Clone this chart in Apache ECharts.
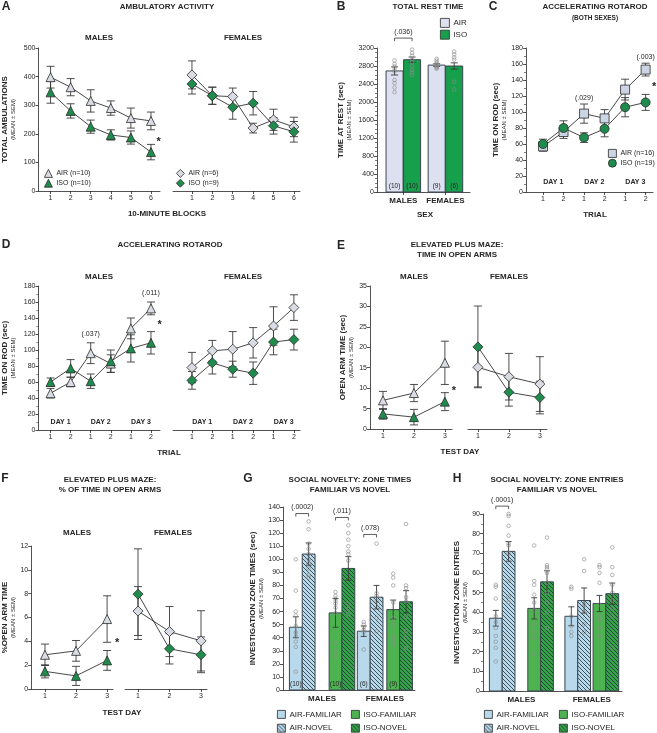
<!DOCTYPE html>
<html lang="en">
<head>
<meta charset="UTF-8">
<title>Isoflurane behaviour panels</title>
<script src="https://cdn.jsdelivr.net/npm/echarts@6.0.0/dist/echarts.min.js"></script>
<style>
    html, body { margin: 0; padding: 0; background: #fff; }
    #main { width: 657px; height: 733px; }
</style>
</head>
<body>
<div id="main"></div>
<script>
// ---------------- data ----------------
// A  ambulatory activity per 10-minute block
var ambBlocks = [1, 2, 3, 4, 5, 6];
var ambMaleAir = [398, 363, 315, 290, 255, 245];
var ambMaleAirSem = [38, 30, 39, 25, 35, 31];
var ambMaleIso = [345, 280, 225, 196, 187, 136];
var ambMaleIsoSem = [38, 25, 23, 18, 23, 27];
var ambFemAir = [406, 333, 330, 220, 249, 224];
var ambFemAirSem = [49, 30, 30, 17, 37, 34];
var ambFemIso = [374, 333, 293, 307, 228, 207];
var ambFemIsoSem = [35, 30, 42, 41, 29, 36];

// B  total rest time
var restGroups = ['MALES', 'FEMALES'];
var restAir = [2690, 2820];
var restAirSem = [90, 30];
var restIso = [2940, 2800];
var restIsoSem = [60, 70];
var restAirN = ['(10)', '(9)'];
var restIsoN = ['(10)', '(6)'];
var restAirPts = [[3215, 2925, 2845, 2790, 2740, 2680, 2490, 2420, 2320, 2220],
                  [2960, 2920, 2880, 2850, 2820, 2800, 2780, 2760, 2740]];
var restIsoPts = [[3235, 3165, 3090, 3030, 2955, 2880, 2790, 2715, 2660, 2600],
                  [3120, 3060, 2990, 2940, 2450, 2280]];
var restP = ['(.036)'];

// C  rotarod, both sexes
var trialPos = [1, 2, 3, 4, 5, 6];
var trialLabels = ['1', '2', '1', '2', '1', '2'];
var dayLabels = ['DAY 1', 'DAY 2', 'DAY 3'];
var rodAllAir = [57, 75, 98, 92, 128, 153];
var rodAllAirSem = [6, 8, 12, 11, 13, 8];
var rodAllIso = [60, 80, 68, 79, 106, 112];
var rodAllIsoSem = [6, 9, 6, 10, 12, 10];
var rodAllP = ['(.029)', '(.003)'];

// D  rotarod by sex
var rodMaleAir = [46, 60, 96, 83, 127, 152];
var rodMaleAirSem = [6, 6, 13, 11, 13, 8];
var rodMaleIso = [60, 77, 61, 86, 102, 109];
var rodMaleIsoSem = [5, 11, 9, 14, 17, 14];
var rodFemAir = [78, 99, 101, 109, 130, 153];
var rodFemAirSem = [19, 13, 22, 19, 24, 16];
var rodFemIso = [62, 84, 76, 71, 110, 113];
var rodFemIsoSem = [11, 14, 10, 14, 16, 13];
var rodSexP = ['(.037)', '(.011)'];

// E  elevated plus maze, time in open arms
var testDays = [1, 2, 3];
var epmMaleAir = [7, 8.8, 16.2];
var epmMaleAirSem = [2.2, 2.1, 5.3];
var epmMaleIso = [3.7, 2.9, 6.7];
var epmMaleIsoSem = [1.3, 1.9, 2.2];
var epmFemAir = [15.1, 12.8, 11];
var epmFemAirSem = [4.8, 5.7, 6.7];
var epmFemIso = [20.1, 9, 7.7];
var epmFemIsoSem = [10, 3.4, 4];

// F  elevated plus maze, % time in open arms
var pctMaleAir = [2.87, 3.2, 5.87];
var pctMaleAirSem = [0.9, 0.87, 1.95];
var pctMaleIso = [1.48, 1.1, 2.4];
var pctMaleIsoSem = [0.55, 0.8, 0.83];
var pctFemAir = [6.54, 4.82, 4.04];
var pctFemAirSem = [2.05, 2.1, 2.53];
var pctFemIso = [7.96, 3.37, 2.87];
var pctFemIsoSem = [3.8, 1.27, 1.5];

// G  social novelty, zone times (males, females)
var zoneTimeAirFam = [48, 45];
var zoneTimeAirFamSem = [8, 4];
var zoneTimeAirNov = [104, 71];
var zoneTimeAirNovSem = [8.5, 9];
var zoneTimeIsoFam = [59, 61.5];
var zoneTimeIsoFamSem = [11, 7.3];
var zoneTimeIsoNov = [93, 67.5];
var zoneTimeIsoNovSem = [9, 8.5];
var zoneTimeAirFamPts = [[100, 76, 60, 57, 49, 44, 41, 37, 33, 14], [52, 50, 48, 46, 44, 31]];
var zoneTimeAirNovPts = [[129, 123, 112, 108, 104, 100, 97, 93, 88, 86], [112, 74, 72, 68, 55, 45]];
var zoneTimeIsoFamPts = [[75, 72, 70, 68, 66, 63, 59, 36, 30, 26], [89, 86, 80, 67, 55, 50, 41, 38, 35]];
var zoneTimeIsoNovPts = [[126, 120, 115, 110, 106, 104, 99, 66, 62, 58], [127, 80, 78, 71, 68, 56, 45, 40, 32]];
var zoneNAir = ['(10)', '(6)'];
var zoneNIso = ['(10)', '(9)'];
var zoneTimeP = ['(.0002)', '(.011)', '(.078)'];

// H  social novelty, zone entries
var zoneEntAirFam = [37, 38];
var zoneEntAirFamSem = [4, 4.8];
var zoneEntAirNov = [71, 46];
var zoneEntAirNovSem = [5, 6.4];
var zoneEntIsoFam = [42, 44.5];
var zoneEntIsoFamSem = [5.4, 4.1];
var zoneEntIsoNov = [55.5, 49.5];
var zoneEntIsoNovSem = [5.6, 5.4];
var zoneEntAirFamPts = [[54, 53, 47, 38, 35, 32, 28, 25, 22, 15], [53, 52, 38, 33, 30, 28]];
var zoneEntAirNovPts = [[90, 89, 84, 79, 75, 74, 70, 56, 48, 45], [67, 61, 44, 40, 34, 30]];
var zoneEntIsoFamPts = [[74, 56, 54, 49, 45, 41, 34, 30, 27, 19], [64, 63, 60, 55, 44, 38, 36, 32, 28]];
var zoneEntIsoNovPts = [[78, 64, 63, 62, 60, 55, 50, 45, 40, 32], [73, 63, 59, 54, 50, 46, 42, 38, 22]];
var zoneEntP = ['(.0001)'];

// ---------------- styling ----------------
var FONT = 'Arial, "Liberation Sans", Helvetica, sans-serif';
var INK = '#262626';
var EDGE = '#3a4650';
var AIR_MARK = '#d9dce4';
var AIR_SQ = '#cbd5e6';
var ISO_MARK = '#1f8b4c';
var AIR_BAR = '#dde0f0';
var ISO_BAR = '#17a04c';
var FAM_AIR = '#b8d9ec';
var FAM_ISO = '#4db350';
var NOV_ISO = '#33a447';

// diagonal hatch used for the "novel" bars
function hatch(bg) {
    var c = document.createElement('canvas');
    c.width = 4; c.height = 4;
    var g = c.getContext('2d');
    g.fillStyle = bg; g.fillRect(0, 0, 4, 4);
    g.strokeStyle = '#1f2d33'; g.lineWidth = 0.8;
    g.beginPath();
    g.moveTo(-1, -1); g.lineTo(5, 5);
    g.moveTo(-1, 3); g.lineTo(1, 5);
    g.moveTo(3, -1); g.lineTo(5, 1);
    g.stroke();
    return {image: c, repeat: 'repeat'};
}
var NOV_AIR_FILL = hatch(FAM_AIR);
var NOV_ISO_FILL = hatch(NOV_ISO);

var grids = [], xAxes = [], yAxes = [], series = [], legends = [], texts = [];

function addPanel(p) {
    var gi = grids.length;
    var ticks = p.xTicks;
    grids.push({left: p.left, top: p.top, width: p.width, height: p.height});
    xAxes.push({
        type: 'value', gridIndex: gi, min: p.xMin, max: p.xMax,
        axisLine: {show: true, onZero: false, lineStyle: {color: INK, width: 0.8}},
        axisTick: {show: !p.noXTick, customValues: ticks, length: 3, lineStyle: {color: INK, width: 0.8}},
        axisLabel: {
            customValues: ticks, color: INK, fontFamily: FONT,
            fontSize: p.xBold ? 8 : 7, fontWeight: p.xBold ? 'bold' : 'normal', margin: p.xBold ? 5 : 4,
            formatter: function (v) {
                var i = ticks.indexOf(v);
                return p.xLabels ? p.xLabels[i] : String(v);
            }
        },
        splitLine: {show: false}
    });
    yAxes.push({
        type: 'value', gridIndex: gi, show: !p.yHide, min: 0, max: p.yMax, interval: p.yInt,
        axisLine: {show: true, onZero: false, lineStyle: {color: INK, width: 0.8}},
        axisTick: {show: true, length: 3, lineStyle: {color: INK, width: 0.8}},
        minorTick: {show: !!p.yMinor, splitNumber: p.yMinor || 5, length: 2, lineStyle: {color: INK, width: 0.6}},
        axisLabel: {fontSize: 7, color: INK, margin: 3, fontFamily: FONT,
            formatter: function (v) { return String(v); }},
        splitLine: {show: false},
        name: p.yName || '', nameLocation: 'middle', nameRotate: 90, nameGap: p.nameGap || 20,
        nameTextStyle: {
            color: INK,
            rich: {
                a: {fontSize: 8, fontWeight: 'bold', fontFamily: FONT, color: INK, lineHeight: 9},
                b: {fontSize: 6, fontFamily: FONT, color: INK, lineHeight: 8}
            }
        }
    });
    return gi;
}

function T(x, y, text, size, bold) {
    texts.push({
        type: 'text', x: x, y: y, silent: true,
        style: {
            text: text, fill: INK,
            font: (bold ? 'bold ' : '') + size + 'px ' + FONT,
            align: 'center', verticalAlign: 'middle',
            textAlign: 'center', textVerticalAlign: 'middle'
        }
    });
}

function pairs(xs, ys) {
    return xs.map(function (x, i) { return [x, ys[i]]; });
}

function lineSeries(gi, name, xs, ys, symbol, fill, size) {
    return {
        type: 'line', name: name, xAxisIndex: gi, yAxisIndex: gi, z: 5,
        data: pairs(xs, ys), symbol: symbol, symbolSize: size, showAllSymbol: true,
        lineStyle: {color: '#333', width: 0.9},
        itemStyle: {color: fill, borderColor: '#2a2a2a', borderWidth: 0.8}
    };
}

function errSeries(gi, xs, means, sems, cap) {
    return {
        type: 'custom', xAxisIndex: gi, yAxisIndex: gi, z: 3, silent: true,
        data: xs.map(function (x, i) { return [x, means[i], sems[i]]; }),
        renderItem: function (params, api) {
            var x = api.value(0), m = api.value(1), s = api.value(2);
            var hi = api.coord([x, m + s]), lo = api.coord([x, m - s]);
            function st() { return {stroke: '#3a3a3a', lineWidth: 0.9}; }
            return {
                type: 'group', children: [
                    {type: 'line', shape: {x1: hi[0], y1: hi[1], x2: lo[0], y2: lo[1]}, style: st()},
                    {type: 'line', shape: {x1: hi[0] - cap, y1: hi[1], x2: hi[0] + cap, y2: hi[1]}, style: st()},
                    {type: 'line', shape: {x1: lo[0] - cap, y1: lo[1], x2: lo[0] + cap, y2: lo[1]}, style: st()}
                ]
            };
        }
    };
}

function barSeries(gi, name, xs, ys, fill, width, nText) {
    return {
        type: 'custom', name: name, xAxisIndex: gi, yAxisIndex: gi, z: 2,
        itemStyle: {color: fill, borderColor: EDGE, borderWidth: 1},
        data: pairs(xs, ys),
        renderItem: function (params, api) {
            var x = api.value(0), v = api.value(1);
            var base = api.coord([x, 0]), top = api.coord([x, v]);
            var w = api.size([width, 0])[0];
            var kids = [{
                type: 'rect',
                shape: {x: base[0] - w / 2, y: top[1], width: w, height: base[1] - top[1]},
                style: {fill: fill, stroke: EDGE, lineWidth: 1}
            }];
            if (nText && nText[params.dataIndex]) {
                kids.push({
                    type: 'text', x: base[0], y: base[1] - 6, z2: 5,
                    style: {
                        text: nText[params.dataIndex], fill: INK, font: '6.5px ' + FONT,
                        align: 'center', verticalAlign: 'middle', textAlign: 'center', textVerticalAlign: 'middle'
                    }
                });
            }
            return {type: 'group', children: kids};
        }
    };
}

function dotSeries(gi, xs, ptsList) {
    var data = [];
    xs.forEach(function (x, i) {
        ptsList[i].forEach(function (v) { data.push([x, v]); });
    });
    return {
        type: 'scatter', xAxisIndex: gi, yAxisIndex: gi, z: 4, silent: true,
        data: data, symbol: 'circle', symbolSize: 3.6,
        itemStyle: {color: 'rgba(255,255,255,0)', borderColor: '#8a8a8a', borderWidth: 0.8}
    };
}

// items: [x, y, text]
function textSeries(gi, items, font) {
    return {
        type: 'custom', xAxisIndex: gi, yAxisIndex: gi, z: 6, silent: true, clip: false,
        data: items.map(function (d) { return [d[0], d[1]]; }),
        renderItem: function (params, api) {
            var p = api.coord([api.value(0), api.value(1)]);
            return {
                type: 'text', x: p[0], y: p[1],
                style: {
                    text: items[params.dataIndex][2], fill: INK, font: font,
                    align: 'center', verticalAlign: 'middle', textAlign: 'center', textVerticalAlign: 'middle'
                }
            };
        }
    };
}

// items: [x1, x2, y, label]
function bracketSeries(gi, items) {
    return {
        type: 'custom', xAxisIndex: gi, yAxisIndex: gi, z: 6, silent: true, clip: false,
        data: items.map(function (d) { return [d[0], d[2], d[1]]; }),
        renderItem: function (params, api) {
            var a = api.coord([api.value(0), api.value(1)]);
            var b = api.coord([api.value(2), api.value(1)]);
            return {
                type: 'group', children: [
                    {type: 'polyline', shape: {points: [[a[0], a[1] + 3], a, b, [b[0], b[1] + 3]]},
                        style: {stroke: '#333', lineWidth: 0.8, fill: null}},
                    {type: 'text', x: (a[0] + b[0]) / 2, y: a[1] - 6,
                        style: {text: items[params.dataIndex][3], fill: INK, font: '7px ' + FONT,
                            align: 'center', verticalAlign: 'middle', textAlign: 'center', textVerticalAlign: 'middle'}}
                ]
            };
        }
    };
}

function legend(left, top, items, size, gap, fontSize) {
    legends.push({
        left: left, top: top, orient: 'vertical', padding: 0, itemGap: gap,
        itemWidth: size, itemHeight: size, selectedMode: false,
        textStyle: {fontSize: fontSize, color: INK, fontFamily: FONT, padding: [0, 0, 0, -1]},
        data: items.map(function (d) {
            return {name: d[0], icon: d[1], itemStyle: {color: d[2], borderColor: '#2a2a2a', borderWidth: 0.8}};
        })
    });
}

var AST = 'bold 11px ' + FONT;
var PFONT = '7px ' + FONT;
var DFONT = 'bold 7px ' + FONT;
var dayPos = [1.5, 3.5, 5.5];

// ---------------- A ----------------
var gAm = addPanel({left: 37, top: 48, width: 123, height: 143, xMin: 0.4, xMax: 6.45, xTicks: ambBlocks,
    yMax: 500, yInt: 100, yName: '{a|TOTAL AMBULATIONS}\n{b|(MEAN ± SEM)}', nameGap: 21});
var gAf = addPanel({left: 173, top: 48, width: 127, height: 143, xMin: 0.07, xMax: 6.3, xTicks: ambBlocks,
    yMax: 500, yInt: 100, yHide: true});
series.push(errSeries(gAm, ambBlocks, ambMaleAir, ambMaleAirSem, 4));
series.push(errSeries(gAm, ambBlocks, ambMaleIso, ambMaleIsoSem, 4));
series.push(lineSeries(gAm, 'AIR (n=10)', ambBlocks, ambMaleAir, 'triangle', AIR_MARK, 9));
series.push(lineSeries(gAm, 'ISO (n=10)', ambBlocks, ambMaleIso, 'triangle', ISO_MARK, 9));
series.push(errSeries(gAf, ambBlocks, ambFemAir, ambFemAirSem, 4));
series.push(errSeries(gAf, ambBlocks, ambFemIso, ambFemIsoSem, 4));
series.push(lineSeries(gAf, 'AIR (n=6)', ambBlocks, ambFemAir, 'diamond', AIR_MARK, 10));
series.push(lineSeries(gAf, 'ISO (n=9)', ambBlocks, ambFemIso, 'diamond', ISO_MARK, 10));
series.push(textSeries(gAm, [[6.38, 171, '*']], AST));
legend(44, 169, [['AIR (n=10)', 'triangle', AIR_MARK], ['ISO (n=10)', 'triangle', ISO_MARK]], 8, 1, 7);
legend(176, 169, [['AIR (n=6)', 'diamond', AIR_MARK], ['ISO (n=9)', 'diamond', ISO_MARK]], 8, 1, 7);

// ---------------- B ----------------
var restXAir = [1, 3.4], restXIso = [2, 4.4];
var gB = addPanel({left: 377, top: 48, width: 93, height: 144, xMin: 0, xMax: 5.3, xTicks: [1.5, 3.9],
    xLabels: restGroups, xBold: true, yMax: 3200, yInt: 400, yMinor: 4,
    yName: '{a|TIME AT REST (sec)}\n{b|(MEAN ± SEM)}', nameGap: 24});
series.push(barSeries(gB, 'AIR', restXAir, restAir, AIR_BAR, 0.97, restAirN));
series.push(barSeries(gB, 'ISO', restXIso, restIso, ISO_BAR, 0.97, restIsoN));
series.push(dotSeries(gB, restXAir, restAirPts));
series.push(dotSeries(gB, restXIso, restIsoPts));
series.push(errSeries(gB, restXAir, restAir, restAirSem, 3.5));
series.push(errSeries(gB, restXIso, restIso, restIsoSem, 3.5));
series.push(bracketSeries(gB, [[1, 2, 3420, restP[0]]]));
legend(440, 18, [['AIR', 'rect', AIR_BAR], ['ISO', 'rect', ISO_BAR]], 9, 2, 8);

// ---------------- C ----------------
var gC = addPanel({left: 526, top: 48, width: 127, height: 144, xMin: 0.17, xMax: 6.36, xTicks: trialPos,
    xLabels: trialLabels, yMax: 180, yInt: 20, yMinor: 2,
    yName: '{a|TIME ON ROD (sec)}\n{b|(MEAN ± SEM)}', nameGap: 16});
series.push(errSeries(gC, trialPos, rodAllAir, rodAllAirSem, 4));
series.push(errSeries(gC, trialPos, rodAllIso, rodAllIsoSem, 4));
series.push(lineSeries(gC, 'AIR (n=16)', trialPos, rodAllAir, 'rect', AIR_SQ, 9));
series.push(lineSeries(gC, 'ISO (n=19)', trialPos, rodAllIso, 'circle', ISO_MARK, 9));
series.push(textSeries(gC, [[3, 118, rodAllP[0]], [6, 169, rodAllP[1]]], PFONT));
series.push(textSeries(gC, [[6.42, 131, '*']], AST));
series.push(textSeries(gC, dayPos.map(function (x, i) { return [x, 12, dayLabels[i]]; }), DFONT));
legend(608, 149, [['AIR (n=16)', 'rect', AIR_SQ], ['ISO (n=19)', 'circle', ISO_MARK]], 8, 1, 7);

// ---------------- D ----------------
var gDm = addPanel({left: 37, top: 286, width: 123, height: 144, xMin: 0.4, xMax: 6.45, xTicks: trialPos,
    xLabels: trialLabels, yMax: 180, yInt: 20, yMinor: 2,
    yName: '{a|TIME ON ROD (sec)}\n{b|(MEAN ± SEM)}', nameGap: 21});
var gDf = addPanel({left: 173, top: 286, width: 127, height: 144, xMin: 0.07, xMax: 6.3, xTicks: trialPos,
    xLabels: trialLabels, yMax: 180, yInt: 20, yHide: true});
series.push(errSeries(gDm, trialPos, rodMaleAir, rodMaleAirSem, 4));
series.push(errSeries(gDm, trialPos, rodMaleIso, rodMaleIsoSem, 4));
series.push(lineSeries(gDm, 'D AIR M', trialPos, rodMaleAir, 'triangle', AIR_MARK, 9));
series.push(lineSeries(gDm, 'D ISO M', trialPos, rodMaleIso, 'triangle', ISO_MARK, 9));
series.push(errSeries(gDf, trialPos, rodFemAir, rodFemAirSem, 4));
series.push(errSeries(gDf, trialPos, rodFemIso, rodFemIsoSem, 4));
series.push(lineSeries(gDf, 'D AIR F', trialPos, rodFemAir, 'diamond', AIR_MARK, 10));
series.push(lineSeries(gDf, 'D ISO F', trialPos, rodFemIso, 'diamond', ISO_MARK, 10));
series.push(textSeries(gDm, [[3, 120, rodSexP[0]], [6, 171, rodSexP[1]]], PFONT));
series.push(textSeries(gDm, [[6.43, 131, '*']], AST));
series.push(textSeries(gDm, dayPos.map(function (x, i) { return [x, 10, dayLabels[i]]; }), DFONT));
series.push(textSeries(gDf, dayPos.map(function (x, i) { return [x, 10, dayLabels[i]]; }), DFONT));

// ---------------- E ----------------
var gEm = addPanel({left: 370, top: 286, width: 82, height: 143, xMin: 0.58, xMax: 3.23, xTicks: testDays,
    yMax: 35, yInt: 5, yName: '{a|OPEN ARM TIME (sec)}\n{b|(MEAN ± SEM)}', nameGap: 15});
var gEf = addPanel({left: 468, top: 286, width: 79, height: 143, xMin: 0.68, xMax: 3.23, xTicks: testDays,
    yMax: 35, yInt: 5, yHide: true});
series.push(errSeries(gEm, testDays, epmMaleAir, epmMaleAirSem, 4));
series.push(errSeries(gEm, testDays, epmMaleIso, epmMaleIsoSem, 4));
series.push(lineSeries(gEm, 'E AIR M', testDays, epmMaleAir, 'triangle', AIR_MARK, 9));
series.push(lineSeries(gEm, 'E ISO M', testDays, epmMaleIso, 'triangle', ISO_MARK, 9));
series.push(errSeries(gEf, testDays, epmFemAir, epmFemAirSem, 4));
series.push(errSeries(gEf, testDays, epmFemIso, epmFemIsoSem, 4));
series.push(lineSeries(gEf, 'E AIR F', testDays, epmFemAir, 'diamond', AIR_MARK, 10));
series.push(lineSeries(gEf, 'E ISO F', testDays, epmFemIso, 'diamond', ISO_MARK, 10));
series.push(textSeries(gEm, [[3.29, 9.3, '*']], AST));

// ---------------- F ----------------
var gFm = addPanel({left: 30, top: 546, width: 83, height: 143, xMin: 0.556, xMax: 3.19, xTicks: testDays,
    yMax: 12, yInt: 2, yName: '{a|%OPEN ARM TIME}\n{b|(MEAN ± SEM)}', nameGap: 12});
var gFf = addPanel({left: 125, top: 546, width: 82, height: 143, xMin: 0.587, xMax: 3.19, xTicks: testDays,
    yMax: 12, yInt: 2, yHide: true});
series.push(errSeries(gFm, testDays, pctMaleAir, pctMaleAirSem, 4));
series.push(errSeries(gFm, testDays, pctMaleIso, pctMaleIsoSem, 4));
series.push(lineSeries(gFm, 'F AIR M', testDays, pctMaleAir, 'triangle', AIR_MARK, 9));
series.push(lineSeries(gFm, 'F ISO M', testDays, pctMaleIso, 'triangle', ISO_MARK, 9));
series.push(errSeries(gFf, testDays, pctFemAir, pctFemAirSem, 4));
series.push(errSeries(gFf, testDays, pctFemIso, pctFemIsoSem, 4));
series.push(lineSeries(gFf, 'F AIR F', testDays, pctFemAir, 'diamond', AIR_MARK, 10));
series.push(lineSeries(gFf, 'F ISO F', testDays, pctFemIso, 'diamond', ISO_MARK, 10));
series.push(textSeries(gFm, [[3.32, 3.9, '*']], AST));

// ---------------- G / H (bar slots: males, females) ----------------
function zonePanel(gi, slots, w, vals, sems, pts, nA, nI, brackets) {
    var names = ['AIR-FAMILIAR', 'AIR-NOVEL', 'ISO-FAMILIAR', 'ISO-NOVEL'];
    var fills = [FAM_AIR, NOV_AIR_FILL, FAM_ISO, NOV_ISO_FILL];
    var ns = [nA, null, nI, null];
    for (var k = 0; k < 4; k++) {
        var xs = [slots[k], slots[k + 4]];
        series.push(barSeries(gi, names[k], xs, vals[k], fills[k], w, ns[k]));
        series.push(dotSeries(gi, xs, pts[k]));
        series.push(errSeries(gi, xs, vals[k], sems[k], 3));
    }
    series.push(bracketSeries(gi, brackets));
}

var gG = addPanel({left: 283, top: 507, width: 132, height: 183, xMin: 0, xMax: 10.3, xTicks: [3.05, 7.95],
    xLabels: restGroups, xBold: true, noXTick: true, yMax: 140, yInt: 10,
    yName: '{a|INVESTIGATION ZONE TIMES (sec)}\n{b|(MEAN ± SEM)}', nameGap: 18});
var gSlots = [1, 2, 4.1, 5.1, 6.3, 7.3, 8.6, 9.6];
zonePanel(gG, gSlots, 1,
    [zoneTimeAirFam, zoneTimeAirNov, zoneTimeIsoFam, zoneTimeIsoNov],
    [zoneTimeAirFamSem, zoneTimeAirNovSem, zoneTimeIsoFamSem, zoneTimeIsoNovSem],
    [zoneTimeAirFamPts, zoneTimeAirNovPts, zoneTimeIsoFamPts, zoneTimeIsoNovPts],
    zoneNAir, zoneNIso,
    [[1, 2, 135, zoneTimeP[0]], [4.1, 5.1, 132, zoneTimeP[1]], [6.3, 7.3, 119, zoneTimeP[2]]]);

var gH = addPanel({left: 483, top: 514, width: 139, height: 177, xMin: 0, xMax: 10.86, xTicks: [3, 8.5],
    xLabels: restGroups, xBold: true, noXTick: true, yMax: 90, yInt: 10, yMinor: 2,
    yName: '{a|INVESTIGATION ZONE ENTRIES}\n{b|(MEAN ± SEM)}', nameGap: 12});
var hSlots = [1, 2, 4, 5, 6.9, 7.9, 9.1, 10.1];
zonePanel(gH, hSlots, 1,
    [zoneEntAirFam, zoneEntAirNov, zoneEntIsoFam, zoneEntIsoNov],
    [zoneEntAirFamSem, zoneEntAirNovSem, zoneEntIsoFamSem, zoneEntIsoNovSem],
    [zoneEntAirFamPts, zoneEntAirNovPts, zoneEntIsoFamPts, zoneEntIsoNovPts],
    null, null,
    [[1, 2, 94, zoneEntP[0]]]);

legend(277, 710, [['AIR-FAMILIAR', 'rect', FAM_AIR], ['AIR-NOVEL', 'rect', NOV_AIR_FILL]], 8, 5, 8);
legend(351, 710, [['ISO-FAMILIAR', 'rect', FAM_ISO], ['ISO-NOVEL', 'rect', NOV_ISO_FILL]], 8, 5, 8);
legend(484, 710, [['AIR-FAMILIAR', 'rect', FAM_AIR], ['AIR-NOVEL', 'rect', NOV_AIR_FILL]], 8, 5, 8);
legend(559, 710, [['ISO-FAMILIAR', 'rect', FAM_ISO], ['ISO-NOVEL', 'rect', NOV_ISO_FILL]], 8, 5, 8);

// ---------------- titles, letters, axis captions ----------------
T(6, 7, 'A', 12, true); T(341, 7, 'B', 12, true); T(493, 7, 'C', 12, true); T(6, 245, 'D', 12, true);
T(341, 246, 'E', 12, true); T(5, 479, 'F', 12, true); T(248, 479, 'G', 12, true); T(457, 479, 'H', 12, true);

T(167, 7, 'AMBULATORY ACTIVITY', 8, true);
T(99, 38, 'MALES', 8, true); T(243, 38, 'FEMALES', 8, true);
T(167, 214, '10-MINUTE BLOCKS', 8, true);
T(428, 7, 'TOTAL REST TIME', 8, true);
T(425, 215, 'SEX', 8, true);
T(595, 7, 'ACCELERATING ROTAROD', 8, true);
T(595, 18, '(BOTH SEXES)', 6.5, true);
T(595, 215, 'TRIAL', 8, true);
T(170, 245, 'ACCELERATING ROTAROD', 8, true);
T(99, 277, 'MALES', 8, true); T(243, 277, 'FEMALES', 8, true);
T(169, 453, 'TRIAL', 8, true);
T(457, 245, 'ELEVATED PLUS MAZE:', 8, true); T(457, 255, 'TIME IN OPEN ARMS', 8, true);
T(414, 277, 'MALES', 8, true); T(509, 277, 'FEMALES', 8, true);
T(460, 452, 'TEST DAY', 8, true);
T(110, 480, 'ELEVATED PLUS MAZE:', 8, true); T(110, 490, '% OF TIME IN OPEN ARMS', 8, true);
T(77, 533, 'MALES', 8, true); T(173, 533, 'FEMALES', 8, true);
T(122, 713, 'TEST DAY', 8, true);
T(350, 480, 'SOCIAL NOVELTY: ZONE TIMES', 8, true); T(350, 490, 'FAMILIAR VS NOVEL', 8, true);
T(557, 480, 'SOCIAL NOVELTY: ZONE ENTRIES', 8, true); T(557, 490, 'FAMILIAR VS NOVEL', 8, true);

var myChart = echarts.init(document.getElementById('main'), null, {renderer: 'canvas'});
myChart.setOption({
    animation: false,
    backgroundColor: '#fff',
    textStyle: {fontFamily: FONT},
    grid: grids,
    xAxis: xAxes,
    yAxis: yAxes,
    legend: legends,
    series: series,
    graphic: {elements: texts}
});
</script>
</body>
</html>
